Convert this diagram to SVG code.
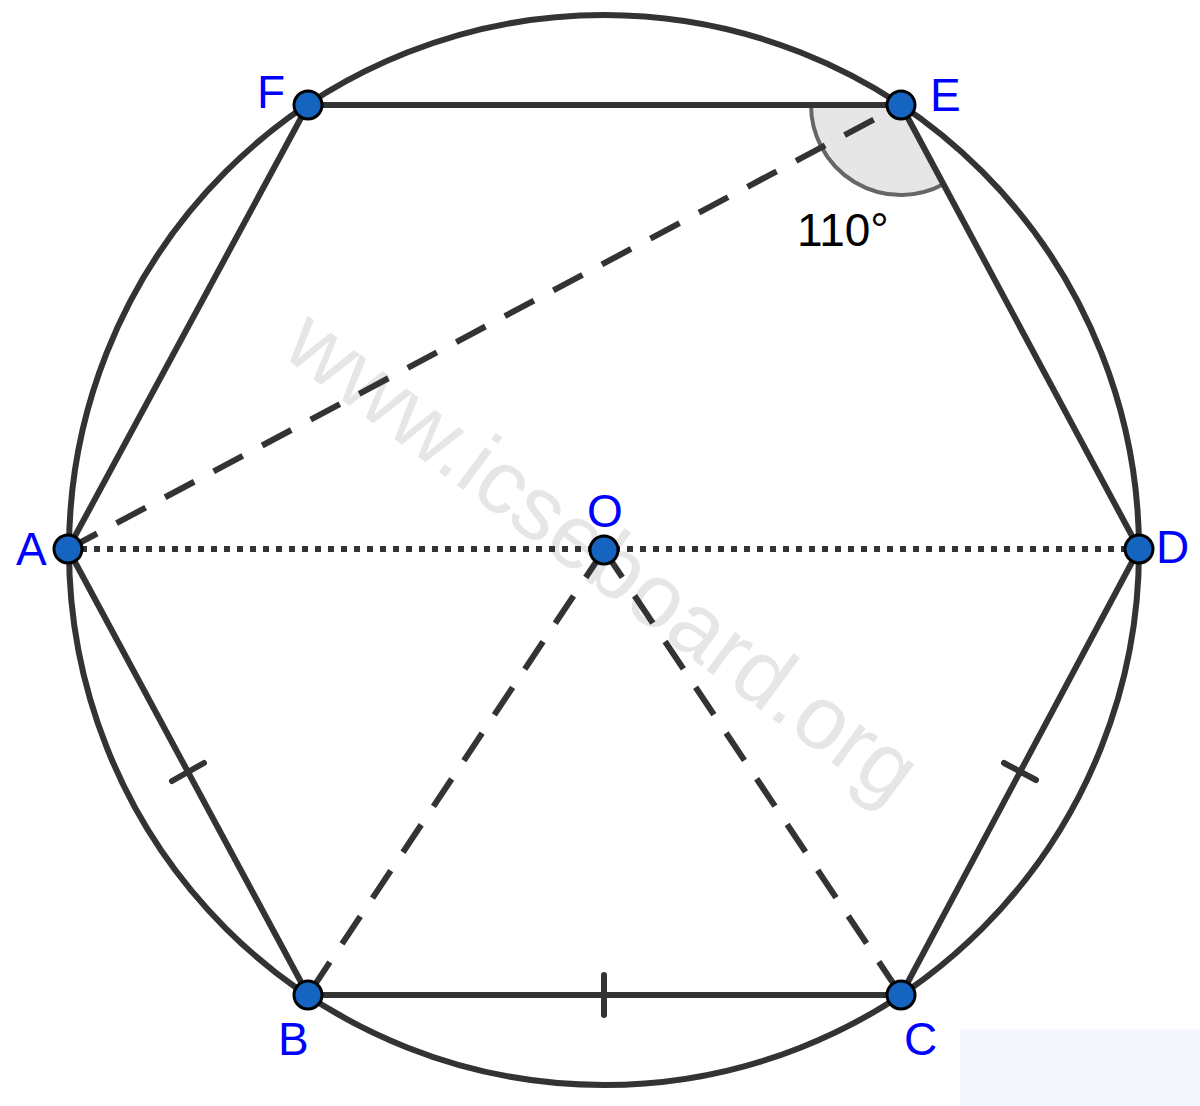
<svg xmlns="http://www.w3.org/2000/svg" width="1200" height="1106" viewBox="0 0 1200 1106">
<style>
.seg{stroke:#333;stroke-width:6;fill:none;stroke-linecap:butt}
.dash{stroke:#333;stroke-width:6;fill:none;stroke-dasharray:33 22}
.dot{stroke:#333;stroke-width:6;fill:none;stroke-dasharray:6 7}
.tick{stroke:#333;stroke-width:6;stroke-linecap:round}
.pt{fill:#1565c0;stroke:#000;stroke-width:3}
.lbl{font-family:"Liberation Sans",Arial,sans-serif;font-size:46px;fill:#0000ff}
</style>
<rect width="1200" height="1106" fill="#fff"/>
<rect x="960" y="1029" width="240" height="77" fill="#f5f6fe"/>
<text x="600" y="585" text-anchor="middle" transform="rotate(36.5 600 560)" font-family="Liberation Sans,Arial,sans-serif" font-size="90" fill="#e6e6e6">www.icseboard.org</text>
<g id="angle">
<path d="M901,105 L811,105 A90,90 0 0 0 943.5,184.3 Z" fill="#e6e6e6"/>
<path d="M811,105 A90,90 0 0 0 943.5,184.3" fill="none" stroke="#666" stroke-width="4"/>
<text x="797" y="246" font-family="Liberation Sans,Arial,sans-serif" font-size="46" fill="#000">110°</text>
</g>
<g id="connectors">
<circle cx="604" cy="550" r="535" class="seg" stroke-width="5"/>
<line class="seg" x1="308" y1="105" x2="901" y2="105"/>
<line class="seg" x1="901" y1="105" x2="1139" y2="549"/>
<line class="seg" x1="1139" y1="549" x2="901" y2="995"/>
<line class="seg" x1="901" y1="995" x2="308" y2="995"/>
<line class="seg" x1="308" y1="995" x2="68" y2="549"/>
<line class="seg" x1="68" y1="549" x2="308" y2="105"/>
<line class="dash" x1="68" y1="549" x2="901" y2="105"/>
<line class="dash" x1="604" y1="550" x2="308" y2="995"/>
<line class="dash" x1="604" y1="550" x2="901" y2="995"/>
<line class="dot" x1="68" y1="549" x2="1139" y2="549"/>
<line class="tick" x1="172" y1="781" x2="204" y2="763"/>
<line class="tick" x1="604" y1="975" x2="604" y2="1015"/>
<line class="tick" x1="1004" y1="763" x2="1036" y2="780"/>
</g>
<g id="F"><circle class="pt" cx="308" cy="105" r="14"/><text class="lbl" x="257" y="108">F</text></g>
<g id="E"><circle class="pt" cx="901" cy="105" r="14"/><text class="lbl" x="930" y="111">E</text></g>
<g id="A"><circle class="pt" cx="68" cy="549" r="14"/><text class="lbl" x="16" y="565">A</text></g>
<g id="D"><circle class="pt" cx="1139" cy="549" r="14"/><text class="lbl" x="1156" y="563">D</text></g>
<g id="O"><circle class="pt" cx="604" cy="550" r="14"/><text class="lbl" x="587" y="527">O</text></g>
<g id="B"><circle class="pt" cx="308" cy="995" r="14"/><text class="lbl" x="278" y="1055">B</text></g>
<g id="C"><circle class="pt" cx="901" cy="995" r="14"/><text class="lbl" x="904" y="1055">C</text></g>
</svg>
